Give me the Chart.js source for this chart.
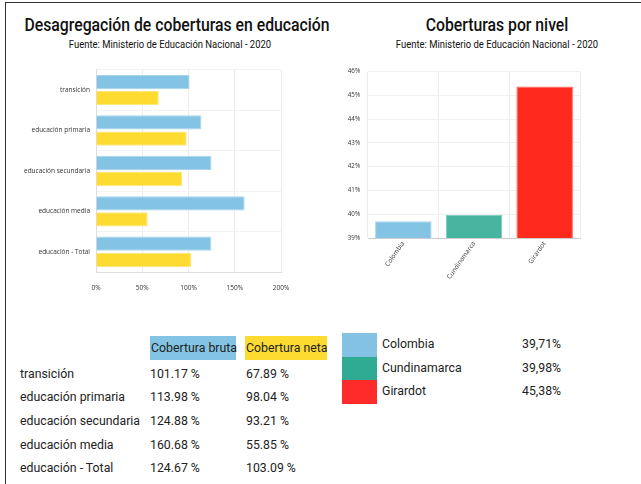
<!DOCTYPE html>
<html>
<head>
<meta charset="utf-8">
<script src="https://cdn.jsdelivr.net/npm/chart.js@4.4.0/dist/chart.umd.min.js"></script>
<style>
  body { margin: 0; background: #fff; font-family: Roboto, sans-serif; color: #222; }
  #page { position: relative; width: 641px; height: 484px; overflow: hidden; }
  .frameTop { position: absolute; left: 5px; top: 2px; width: 640px; height: 1px; background: #333; }
  .frameLeft { position: absolute; left: 5px; top: 2px; width: 1px; height: 490px; background: #333; }
  .title { position: absolute; white-space: nowrap; transform-origin: center; text-align: center; color: #111; }
  .abs { position: absolute; white-space: nowrap; font-size: 12.3px; }
  canvas { position: absolute; }
</style>
</head>
<body>
<div id="page">
  <div class="frameTop"></div>
  <div class="frameLeft"></div>
  <div id="titles"></div>
  <div style="position:absolute;left:10px;top:60px;width:285px;height:240px"><canvas id="leftChart"></canvas></div>
  <div style="position:absolute;left:335px;top:60px;width:260px;height:240px"><canvas id="rightChart"></canvas></div>
  <div id="tableBox"></div>
  <div id="legendBox"></div>
</div>
<script>
// data: coverage by level
const levels = ['transición', 'educación primaria', 'educación secundaria', 'educación media', 'educación - Total'];
const brutaValues = [101.17, 113.98, 124.88, 160.68, 124.67];
const netaValues = [67.89, 98.04, 93.21, 55.85, 103.09];
const seriesNames = ['Cobertura bruta', 'Cobertura neta'];
const xTicksLeft = [0, 50, 100, 150, 200];

// data: coverage by place
const places = ['Colombia', 'Cundinamarca', 'Girardot'];
const placeValues = [39.71, 39.98, 45.38];
const yTicksRight = [39, 40, 41, 42, 43, 44, 45, 46];

const blue = '#83c3e3';
const yellow = '#fddb30';
const placeColors = ['#83c3e3', '#47b5a0', '#ff2a1e'];
const legendColors = ['#85c1e2', '#30ab93', '#ff2a2a'];
const gridColor = '#ececec';
const tickFont = { family: 'Open Sans', size: 6.5 };

// titles as html text
const titles = [
  { text: 'Desagregación de coberturas en educación', cx: 177, y: 13, size: 19, sx: 0.83 },
  { text: 'Fuente: Ministerio de Educación Nacional - 2020', cx: 170, y: 38, size: 11, sx: 0.86 },
  { text: 'Coberturas por nivel', cx: 497, y: 13, size: 19, sx: 0.83 },
  { text: 'Fuente: Ministerio de Educación Nacional - 2020', cx: 497, y: 38, size: 11, sx: 0.86 }
];
const titleBox = document.getElementById('titles');
titles.forEach(t => {
  const d = document.createElement('div');
  d.className = 'title';
  d.textContent = t.text;
  d.style.fontSize = t.size + 'px';
  d.style.fontWeight = t.size > 15 ? '500' : '400';
  d.style.top = t.y + 'px';
  d.style.left = (t.cx - 300) + 'px';
  d.style.width = '600px';
  d.style.transform = 'scaleX(' + t.sx + ')';
  titleBox.appendChild(d);
});

function fixWidth(w) { return function(scale) { scale.width = w; }; }
function fixHeight(h) { return function(scale) { scale.height = h; }; }

new Chart(document.getElementById('leftChart'), {
  type: 'bar',
  data: {
    labels: levels,
    datasets: [
      { label: seriesNames[0], data: brutaValues, backgroundColor: blue, borderColor: '#a7d4ec', borderWidth: 1 },
      { label: seriesNames[1], data: netaValues, backgroundColor: yellow, borderColor: '#fde67a', borderWidth: 1 }
    ]
  },
  options: {
    indexAxis: 'y',
    responsive: true,
    maintainAspectRatio: false,
    animation: false,
    layout: { padding: { top: 0, right: 14, left: 0, bottom: 0 } },
    categoryPercentage: 0.8,
    barPercentage: 0.88,
    plugins: { legend: { display: false }, tooltip: { enabled: false } },
    scales: {
      x: {
        min: 0, max: 200,
        afterFit: function(scale) { scale.height = 28; scale.paddingRight = 8; scale.paddingLeft = 0; },
        afterBuildTicks: function(scale) { scale.ticks = xTicksLeft.map(v => ({ value: v })); },
        ticks: { font: tickFont, color: '#333', padding: 12, minRotation: 0, maxRotation: 0, callback: v => v + '%' },
        grid: { color: gridColor, drawTicks: false },
        border: { color: '#ddd' }
      },
      y: {
        afterFit: fixWidth(86),
        ticks: { font: tickFont, color: '#333', padding: 6 },
        grid: { color: '#f2f2f2', drawTicks: false },
        border: { color: '#ddd' }
      }
    }
  }
});

new Chart(document.getElementById('rightChart'), {
  type: 'bar',
  data: {
    labels: places,
    datasets: [
      { data: placeValues, backgroundColor: placeColors, borderColor: ['#a9d5ec', '#7ccbbb', '#ff6b62'], borderWidth: 1 }
    ]
  },
  options: {
    responsive: true,
    maintainAspectRatio: false,
    animation: false,
    layout: { padding: { top: 3, right: 15, left: 0, bottom: 0 } },
    categoryPercentage: 0.8,
    barPercentage: 1,
    plugins: { legend: { display: false }, tooltip: { enabled: false } },
    scales: {
      x: {
        afterFit: fixHeight(62),
        ticks: { font: { family: 'Open Sans', size: 6.5 }, color: '#333', minRotation: 55, maxRotation: 55, padding: 2 },
        grid: { color: gridColor, drawTicks: false },
        border: { color: '#ccc' }
      },
      y: {
        min: 39, max: 46,
        afterFit: fixWidth(33),
        afterBuildTicks: function(scale) { scale.ticks = yTicksRight.map(v => ({ value: v })); },
        ticks: { font: { family: 'Open Sans', size: 6.2 }, color: '#333', padding: 8, callback: v => v + '%' },
        grid: { color: '#f0f0f0', drawTicks: false },
        border: { display: false }
      }
    }
  }
});

// bottom table built from the same arrays
const tableBox = document.getElementById('tableBox');
function addText(text, x, y, extra) {
  const d = document.createElement('div');
  d.className = 'abs';
  d.textContent = text;
  d.style.left = x + 'px';
  d.style.top = y + 'px';
  if (extra) Object.assign(d.style, extra);
  tableBox.appendChild(d);
  return d;
}
addText(seriesNames[0], 150, 336, { background: blue, width: '86px', height: '24px', lineHeight: '24px', paddingLeft: '1px', boxSizing: 'border-box' });
addText(seriesNames[1], 245, 336, { background: yellow, width: '82px', height: '24px', lineHeight: '24px', paddingLeft: '1px', boxSizing: 'border-box' });
const rowY = [367, 390, 414, 438, 461];
levels.forEach((name, i) => {
  addText(name, 20, rowY[i]);
  addText(brutaValues[i].toFixed(2) + ' %', 150, rowY[i]);
  addText(netaValues[i].toFixed(2) + ' %', 246, rowY[i]);
});

// legend for the place chart
const legendBox = document.getElementById('legendBox');
places.forEach((name, i) => {
  const top = 333 + i * 23.7;
  const sw = document.createElement('div');
  sw.style.cssText = 'position:absolute;left:342px;width:35px;height:24px;top:' + top + 'px;background:' + legendColors[i];
  legendBox.appendChild(sw);
  const n = document.createElement('div');
  n.className = 'abs';
  n.textContent = name;
  n.style.left = '382px';
  n.style.top = (top + 4) + 'px';
  legendBox.appendChild(n);
  const v = document.createElement('div');
  v.className = 'abs';
  v.textContent = placeValues[i].toFixed(2).replace('.', ',') + '%';
  v.style.left = '522px';
  v.style.top = (top + 4) + 'px';
  legendBox.appendChild(v);
});
</script>
</body>
</html>
